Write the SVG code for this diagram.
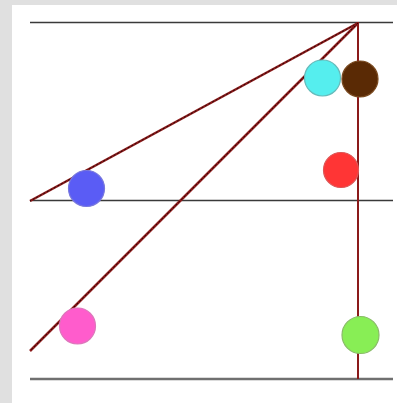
<svg xmlns="http://www.w3.org/2000/svg" width="397" height="403" viewBox="0 0 397 403">
<style>
.hl{stroke:#3a3a3a;stroke-width:1.5;fill:none}
.diag{stroke:#8b1a1a;stroke-width:2.5;fill:none}
.dash{stroke:#2a0808;stroke-width:1;stroke-dasharray:2 2;fill:none}
.ball{stroke-width:1.2}
</style>
<rect x="0" y="0" width="397" height="403" fill="#e0e0e0"/>
<rect x="12" y="5" width="385" height="398" fill="#ffffff"/>
<g id="connectors">
<line class="hl" x1="30" y1="22.5" x2="393" y2="22.5"/>
<line class="hl" x1="30" y1="200.5" x2="393" y2="200.5"/>
<line x1="30" y1="379" x2="393" y2="379" stroke="#707070" stroke-width="2.5"/>
<line x1="358" y1="22" x2="358" y2="379" stroke="#8b1a1a" stroke-width="2"/>
<line class="diag" x1="358" y1="23" x2="30" y2="201"/>
<line class="dash" x1="358" y1="23" x2="30" y2="201"/>
<line class="diag" x1="358" y1="23" x2="30" y2="351"/>
<line class="dash" x1="358" y1="23" x2="30" y2="351"/>
</g>
<g id="cyan"><circle class="ball" cx="322.5" cy="78" r="18" fill="#55eeee" stroke="#66bbbb"/></g>
<g id="brown"><circle class="ball" cx="360" cy="79" r="18" fill="#5a2a05" stroke="#7a4a20"/></g>
<g id="red"><circle class="ball" cx="341" cy="170" r="17.5" fill="#ff3535" stroke="#dd5555"/></g>
<g id="blue"><circle class="ball" cx="86.5" cy="188.5" r="18" fill="#5a5cf5" stroke="#7777dd"/></g>
<g id="pink"><circle class="ball" cx="77.5" cy="326" r="18" fill="#ff5ccc" stroke="#dd77bb"/></g>
<g id="green"><circle class="ball" cx="360.5" cy="335" r="18.5" fill="#88ee55" stroke="#88bb66"/></g>
</svg>
